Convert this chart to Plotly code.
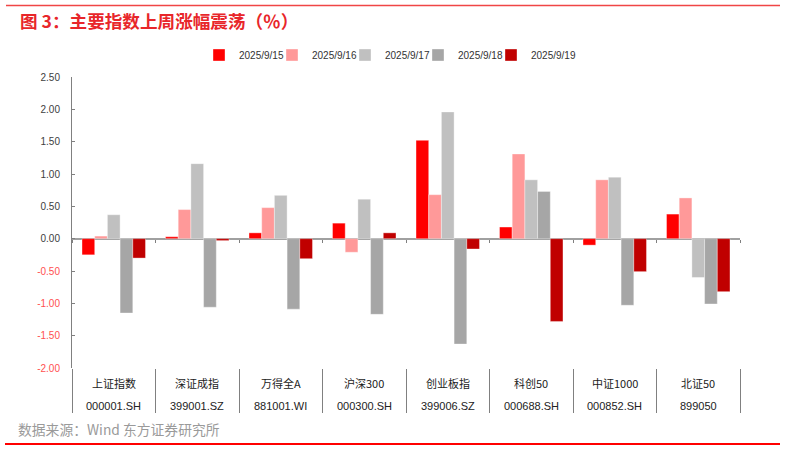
import plotly.graph_objects as go

names = ["上证指数", "深证成指", "万得全A", "沪深300", "创业板指", "科创50", "中证1000", "北证50"]
codes = ["000001.SH", "399001.SZ", "881001.WI", "000300.SH", "399006.SZ", "000688.SH", "000852.SH", "899050"]
dates = ["2025/9/15", "2025/9/16", "2025/9/17", "2025/9/18", "2025/9/19"]

d0915 = [-0.25, 0.03, 0.09, 0.24, 1.52, 0.18, -0.10, 0.38]
d0916 = [0.04, 0.45, 0.48, -0.21, 0.68, 1.31, 0.91, 0.63]
d0917 = [0.37, 1.16, 0.67, 0.61, 1.96, 0.91, 0.95, -0.60]
d0918 = [-1.15, -1.06, -1.09, -1.17, -1.63, 0.73, -1.03, -1.01]
d0919 = [-0.30, -0.03, -0.31, 0.09, -0.16, -1.28, -0.51, -0.82]

y_ticks = [2.5, 2.0, 1.5, 1.0, 0.5, 0.0, -0.5, -1.0, -1.5, -2.0]

series = [d0915, d0916, d0917, d0918, d0919]
colors = ["#ff0000", "#ff9999", "#c0c0c0", "#a6a6a6", "#c00000"]

FONT = "Liberation Sans, Arial, Noto Sans CJK SC, sans-serif"
CJK = "Noto Sans CJK SC, sans-serif"

W, H = 785, 451
L, R, T, B = 72, 45, 77, 83
PW, PH = W - L - R, H - T - B


def px_x(p):
    return (p - L) / PW


def px_y(p):
    return (H - B - p) / PH


fig = go.Figure()
legend_left = 199
spacing = 73
for i, (dt, vals, col) in enumerate(zip(dates, series, colors)):
    lg = "legend" if i == 0 else f"legend{i+1}"
    fig.add_trace(go.Bar(
        x=names, y=vals, name=dt,
        marker=dict(color=col, line=dict(width=0.6, color="rgba(255,255,255,0.6)")),
        legend=lg,
    ))

legend_layout = {}
for i in range(5):
    key = "legend" if i == 0 else f"legend{i+1}"
    legend_layout[key] = dict(
        x=px_x(legend_left + i * spacing), xanchor="left",
        y=px_y(55), yanchor="middle", orientation="h",
        bgcolor="rgba(0,0,0,0)", borderwidth=0,
        font=dict(family=FONT, size=10, color="#333333"),
        itemclick=False, itemdoubleclick=False,
    )


def tick_text(v):
    s = f"{v:.2f}"
    if v < 0:
        return f"<span style='color:#ff5050'>{s}</span>"
    return s


annotations = []
for n, c in zip(names, codes):
    annotations.append(dict(x=n, xref="x", y=px_y(383), yref="paper", text=n,
                            showarrow=False, yanchor="middle", xanchor="center",
                            font=dict(family=CJK, size=11, color="#222222")))
    annotations.append(dict(x=n, xref="x", y=px_y(405.5), yref="paper", text=c,
                            showarrow=False, yanchor="middle", xanchor="center",
                            font=dict(family=FONT, size=11, color="#222222")))

annotations.append(dict(x=px_x(18), xref="paper", y=px_y(20), yref="paper",
                        text="<b>图 3：主要指数上周涨幅震荡（％）</b>", showarrow=False,
                        xanchor="left", yanchor="middle",
                        font=dict(family=CJK, size=17.6, color="#e8262a")))
annotations.append(dict(x=px_x(16), xref="paper", y=px_y(429), yref="paper",
                        text="数据来源：Wind 东方证券研究所", showarrow=False,
                        xanchor="left", yanchor="middle",
                        font=dict(family=CJK, size=13.8, color="#9a9a9a")))

shapes = [
    dict(type="rect", xref="paper", yref="paper", x0=px_x(6), x1=px_x(780),
         y0=px_y(4.8), y1=px_y(6.3), fillcolor="#f04646", line=dict(width=0),
         layer="above"),
    dict(type="rect", xref="paper", yref="paper", x0=px_x(5), x1=px_x(780),
         y0=px_y(443), y1=px_y(445), fillcolor="#ff0000", line=dict(width=0),
         layer="above"),
]

fig.update_layout(
    width=W, height=H,
    margin=dict(l=L, r=R, t=T, b=B, pad=0),
    paper_bgcolor="white", plot_bgcolor="white",
    barmode="group", bargap=0.24, bargroupgap=0,
    font=dict(family=FONT, size=10, color="#404040"),
    showlegend=True,
    annotations=annotations,
    shapes=shapes,
    xaxis=dict(
        type="category", range=[-0.5, len(names) - 0.5],
        showticklabels=False, showline=False, showgrid=False, zeroline=False,
        ticks="outside", tickson="boundaries", ticklen=44,
        tickcolor="#808080", tickwidth=1,
    ),
    xaxis2=dict(
        overlaying="x", anchor="free", position=2.0 / 4.5,
        range=[-0.5, len(names) - 0.5],
        tickmode="array", tickvals=[i - 0.5 for i in range(len(names) + 1)],
        showticklabels=False, showline=False, showgrid=False, zeroline=False,
        ticks="outside", ticklen=3, tickcolor="#808080", tickwidth=1,
    ),
    yaxis=dict(
        range=[-2.0, 2.5], tickmode="array", tickvals=y_ticks,
        ticktext=[tick_text(v) for v in y_ticks],
        showline=True, linecolor="#808080", linewidth=1,
        ticks="inside", ticklen=3, tickcolor="#808080",
        showgrid=False, zeroline=True, zerolinecolor="#a0a0a0", zerolinewidth=1.5,
        ticklabelstandoff=9,
        tickfont=dict(family=FONT, size=10, color="#404040"),
    ),
    **legend_layout,
)
# invisible helper trace so the zero-line tick axis (xaxis2) is drawn
fig.add_trace(go.Scatter(x=[0], y=[0], xaxis="x2", mode="markers",
                         marker=dict(opacity=0), showlegend=False, hoverinfo="skip"))

fig.write_html("out.html", config={"displayModeBar": False},
               post_script="document.body.style.margin='0';document.body.style.overflow='hidden';")
